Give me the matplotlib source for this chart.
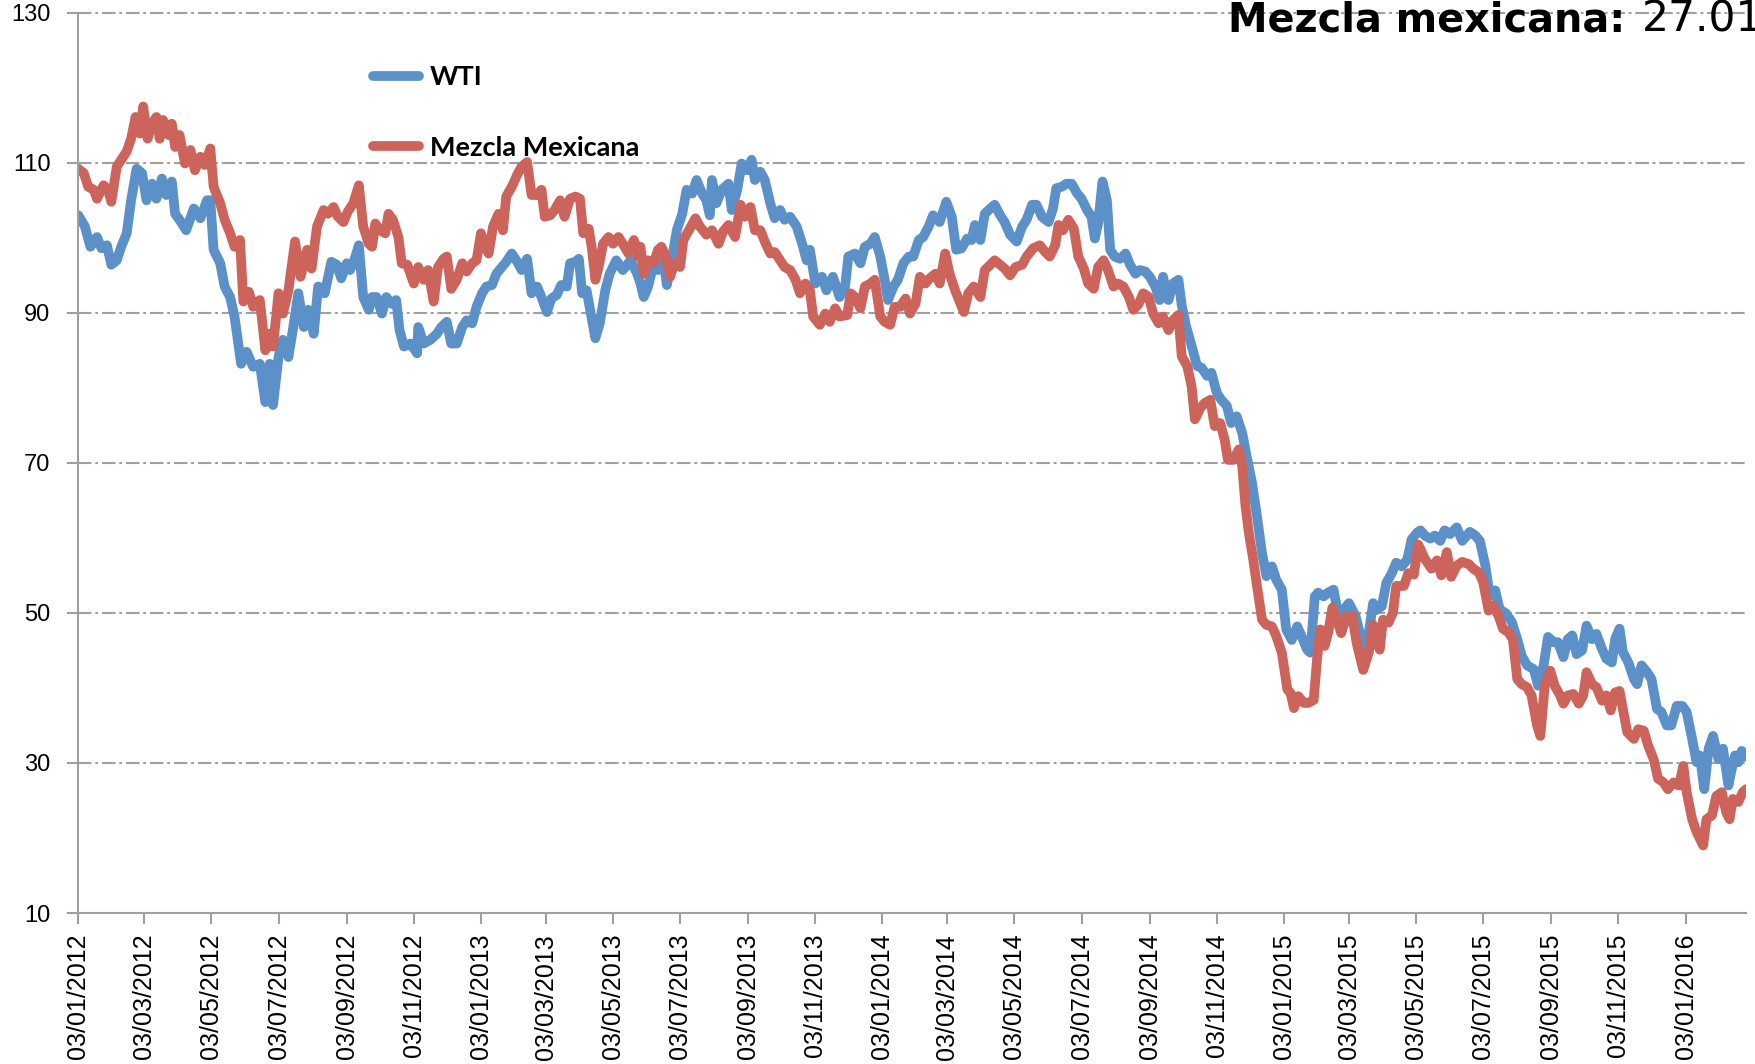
import matplotlib
matplotlib.use("Agg")
import matplotlib.pyplot as plt
import matplotlib.dates as mdates
import pandas as pd

# Daily crude prices (USD per barrel); *_day = days elapsed since 3 Jan 2012
start = pd.Timestamp("2012-01-03")

wti_day = [
    0, 6, 11, 17, 21, 26, 30, 35, 39, 44, 48, 53, 58, 62, 67, 71, 76, 80, 85, 88,
    92, 98, 105, 111, 117, 120, 123, 129, 133, 138, 142, 148, 153, 159, 165, 170, 174, 177, 182, 186,
    191, 195, 200, 205, 209, 214, 218, 224, 230, 235, 239, 244, 247, 250, 255, 259, 264, 267, 271, 276,
    280, 285, 289, 292, 296, 302, 308, 309, 314, 320, 326, 330, 335, 339, 344, 349, 353, 358, 362, 367,
    371, 376, 380, 385, 389, 394, 399, 403, 408, 412, 417, 421, 426, 430, 435, 439, 444, 447, 452, 455,
    458, 462, 467, 470, 474, 479, 483, 489, 495, 502, 508, 511, 514, 518, 523, 527, 532, 535, 539, 544,
    549, 553, 558, 562, 567, 571, 574, 576, 580, 585, 591, 594, 599, 603, 608, 612, 615, 620, 624, 629,
    633, 638, 642, 647, 653, 658, 662, 665, 670, 676, 680, 686, 692, 697, 700, 706, 711, 715, 720, 724,
    729, 733, 736, 741, 745, 750, 755, 759, 764, 768, 773, 777, 783, 789, 794, 798, 803, 808, 812, 815,
    820, 824, 829, 833, 838, 842, 847, 853, 858, 862, 867, 871, 876, 882, 886, 889, 894, 898, 903, 908,
    912, 917, 921, 924, 927, 931, 935, 938, 942, 947, 952, 956, 961, 965, 970, 974, 979, 983, 986, 991,
    995, 1000, 1003, 1007, 1012, 1017, 1021, 1026, 1030, 1035, 1039, 1044, 1048, 1053, 1058, 1062, 1067, 1071, 1076, 1080,
    1085, 1089, 1094, 1098, 1103, 1108, 1112, 1117, 1120, 1124, 1127, 1132, 1136, 1141, 1145, 1150, 1155, 1161, 1165, 1168,
    1173, 1177, 1180, 1185, 1189, 1194, 1198, 1203, 1208, 1212, 1217, 1220, 1224, 1229, 1233, 1238, 1242, 1247, 1253, 1258,
    1265, 1270, 1274, 1279, 1283, 1288, 1292, 1298, 1303, 1308, 1312, 1317, 1323, 1327, 1332, 1336, 1341, 1345, 1350, 1354,
    1358, 1362, 1367, 1371, 1376, 1380, 1385, 1389, 1394, 1397, 1401, 1404, 1409, 1414, 1417, 1421, 1426, 1430, 1435, 1439,
    1444, 1448, 1453, 1458, 1462, 1467, 1471, 1474, 1478, 1482, 1486, 1491, 1495, 1500, 1503, 1506, 1509, 1512, 1516,
]
wti = [
    103.0, 101.5, 98.8, 100.1, 98.6, 99.0, 96.4, 97.0, 98.8, 100.6, 105.0, 109.2, 108.6, 105.0, 107.2, 105.2, 107.9, 105.7, 107.5, 103.2,
    102.4, 101.0, 103.9, 102.6, 105.0, 105.0, 98.4, 96.6, 93.5, 92.1, 89.5, 83.2, 84.8, 82.8, 83.2, 78.1, 83.2, 77.7, 84.1, 86.4,
    84.1, 87.7, 92.6, 88.1, 90.4, 87.2, 93.5, 92.6, 96.8, 96.4, 94.6, 96.6, 95.7, 96.6, 99.0, 92.1, 90.4, 92.1, 92.1, 89.9,
    92.1, 91.2, 91.7, 87.7, 85.5, 85.9, 84.6, 88.1, 85.9, 86.4, 87.2, 88.1, 88.8, 85.9, 85.9, 88.1, 89.0, 88.6, 90.8, 92.6,
    93.5, 93.7, 95.2, 96.1, 96.8, 97.9, 96.8, 95.7, 97.2, 92.6, 93.5, 92.1, 90.1, 91.9, 92.4, 93.7, 93.5, 96.6, 96.8, 97.2,
    92.6, 93.0, 89.0, 86.6, 88.6, 93.0, 95.2, 97.0, 95.7, 97.0, 95.2, 93.9, 92.1, 93.5, 96.6, 95.7, 97.0, 93.7, 96.6, 101.0,
    103.2, 106.4, 105.9, 107.7, 105.9, 105.0, 103.0, 107.7, 104.6, 106.4, 107.2, 103.7, 106.4, 109.9, 109.0, 110.4, 107.7, 108.8, 107.7, 104.6,
    102.6, 103.7, 102.4, 102.8, 101.5, 99.2, 97.0, 98.4, 93.9, 94.8, 93.0, 94.8, 92.1, 93.5, 97.5, 97.9, 96.6, 98.8, 99.2, 100.1,
    97.5, 94.4, 91.7, 93.5, 94.4, 96.6, 97.5, 97.5, 99.7, 100.1, 101.5, 103.0, 102.1, 104.8, 102.8, 98.4, 98.6, 99.9, 99.7, 101.7,
    99.7, 103.2, 103.9, 104.4, 103.0, 102.1, 100.4, 99.5, 101.5, 102.4, 104.4, 104.4, 102.8, 102.1, 103.9, 106.6, 106.8, 107.2, 107.2, 105.9,
    105.2, 103.7, 102.8, 99.9, 101.9, 107.5, 105.0, 98.4, 97.5, 97.2, 97.9, 96.4, 95.2, 95.7, 95.5, 94.8, 93.5, 91.7, 94.8, 91.7,
    93.9, 94.4, 91.0, 88.2, 85.6, 82.9, 82.7, 81.6, 82.0, 79.3, 78.4, 77.6, 75.3, 76.2, 74.0, 70.9, 67.3, 63.3, 58.0, 54.9,
    56.2, 54.4, 53.1, 47.8, 46.4, 48.2, 46.9, 45.1, 44.7, 52.2, 52.7, 52.2, 52.7, 53.1, 50.0, 50.4, 51.3, 49.6, 47.3, 45.1,
    47.3, 51.3, 50.4, 50.9, 54.0, 55.3, 56.7, 56.2, 57.1, 59.8, 60.7, 61.0, 60.3, 59.9, 60.3, 59.6, 61.0, 60.5, 61.4, 59.6,
    60.8, 60.3, 59.6, 56.3, 52.3, 53.0, 50.5, 49.9, 48.8, 46.5, 44.3, 43.0, 42.5, 40.3, 43.0, 46.8, 46.1, 46.1, 44.1, 46.5,
    47.0, 44.5, 45.0, 48.3, 46.5, 47.2, 45.2, 43.9, 43.4, 46.5, 47.9, 44.8, 43.4, 41.2, 40.5, 43.0, 42.1, 41.2, 37.2, 36.8,
    35.0, 35.0, 37.6, 37.6, 36.8, 33.2, 30.1, 31.0, 26.5, 31.9, 33.6, 30.5, 31.9, 27.0, 29.2, 31.0, 30.1, 31.6, 30.8,
]

mme_day = [
    0, 5, 9, 14, 17, 23, 27, 30, 35, 39, 44, 48, 52, 56, 59, 63, 67, 71, 74, 77,
    82, 85, 88, 92, 97, 102, 106, 111, 115, 120, 123, 129, 133, 138, 142, 147, 150, 155, 159, 165,
    170, 174, 177, 182, 186, 191, 197, 202, 208, 212, 217, 223, 227, 232, 236, 241, 245, 250, 255, 259,
    264, 267, 270, 274, 279, 282, 286, 291, 294, 299, 305, 309, 314, 318, 323, 327, 332, 335, 339, 344,
    349, 353, 358, 362, 366, 370, 373, 377, 382, 386, 389, 394, 399, 403, 408, 412, 417, 421, 424, 429,
    433, 438, 442, 447, 452, 456, 459, 464, 467, 470, 473, 477, 482, 486, 491, 495, 500, 505, 509, 511,
    514, 518, 523, 527, 530, 533, 538, 542, 547, 550, 555, 561, 565, 571, 576, 582, 586, 591, 597, 602,
    606, 611, 615, 620, 624, 629, 633, 638, 642, 647, 652, 656, 661, 665, 668, 674, 679, 683, 688, 692,
    699, 702, 706, 711, 715, 720, 724, 729, 733, 738, 742, 747, 752, 756, 761, 765, 770, 774, 779, 783,
    788, 792, 797, 802, 805, 809, 814, 820, 824, 829, 833, 838, 842, 847, 852, 858, 862, 868, 874, 879,
    883, 888, 891, 895, 900, 905, 909, 914, 918, 923, 927, 932, 936, 941, 945, 950, 955, 959, 964, 968,
    973, 977, 982, 986, 991, 995, 1000, 1003, 1008, 1012, 1015, 1020, 1024, 1029, 1033, 1038, 1042, 1045, 1050, 1055,
    1058, 1061, 1064, 1068, 1071, 1076, 1080, 1085, 1089, 1094, 1099, 1102, 1105, 1109, 1114, 1118, 1123, 1126, 1129, 1133,
    1136, 1140, 1144, 1148, 1153, 1158, 1162, 1168, 1173, 1177, 1183, 1186, 1191, 1195, 1198, 1205, 1209, 1214, 1218, 1220,
    1224, 1230, 1235, 1239, 1244, 1248, 1253, 1258, 1264, 1268, 1273, 1277, 1282, 1286, 1291, 1295, 1300, 1304, 1308, 1312,
    1317, 1321, 1326, 1329, 1333, 1338, 1342, 1347, 1350, 1354, 1359, 1364, 1368, 1371, 1376, 1380, 1385, 1389, 1393, 1397,
    1401, 1404, 1408, 1414, 1418, 1423, 1427, 1432, 1436, 1441, 1445, 1450, 1455, 1459, 1462, 1467, 1471, 1477, 1480, 1485,
    1489, 1494, 1498, 1501, 1504, 1509, 1513, 1516,
]
mme = [
    109.2, 108.6, 106.8, 106.4, 105.2, 107.0, 106.4, 104.8, 109.5, 110.4, 111.5, 113.2, 116.1, 113.9, 117.5, 113.2, 115.2, 116.1, 113.2, 115.7,
    113.7, 115.2, 112.1, 113.7, 109.9, 111.7, 109.0, 110.8, 109.7, 111.9, 106.8, 104.6, 102.4, 100.6, 98.8, 99.7, 91.5, 92.8, 90.8, 91.7,
    85.0, 87.2, 85.5, 92.6, 89.9, 93.0, 99.5, 94.8, 98.4, 95.9, 101.5, 103.7, 103.2, 104.1, 102.8, 102.1, 103.5, 104.6, 107.0, 101.5,
    99.2, 98.8, 101.9, 101.0, 100.6, 103.2, 102.4, 100.1, 96.6, 96.4, 93.9, 96.1, 94.4, 95.7, 91.5, 96.1, 97.2, 97.5, 93.2, 94.4,
    96.6, 95.5, 96.6, 97.0, 100.6, 98.8, 97.9, 101.5, 103.2, 101.0, 105.5, 106.8, 108.4, 109.5, 110.1, 105.7, 105.7, 106.4, 102.8, 103.0,
    103.7, 105.0, 102.8, 105.2, 105.5, 105.2, 100.6, 101.2, 98.4, 94.4, 96.1, 99.2, 100.1, 99.2, 100.1, 99.2, 97.9, 99.7, 97.5, 98.8,
    95.2, 97.0, 96.6, 98.4, 98.8, 97.9, 94.8, 96.6, 96.1, 99.7, 101.0, 102.6, 101.5, 100.4, 101.0, 99.2, 100.8, 101.7, 100.1, 104.4,
    102.8, 104.1, 101.0, 101.0, 99.5, 97.9, 98.1, 97.0, 96.1, 95.7, 94.4, 92.6, 93.9, 93.0, 89.5, 88.4, 89.9, 88.8, 90.6, 89.5,
    89.7, 92.6, 92.1, 90.6, 93.5, 93.9, 94.4, 89.5, 88.8, 88.4, 90.8, 90.8, 91.9, 89.9, 91.2, 94.8, 93.9, 94.6, 95.2, 93.9,
    97.9, 95.2, 93.0, 91.2, 90.1, 92.6, 93.5, 92.1, 95.7, 96.4, 97.0, 96.4, 95.9, 95.0, 96.1, 96.4, 97.5, 98.6, 99.0, 98.1,
    97.5, 99.0, 101.7, 101.0, 102.4, 101.2, 97.5, 95.9, 93.9, 93.2, 96.1, 97.0, 95.7, 93.5, 93.9, 93.5, 92.1, 90.4, 91.2, 92.6,
    92.1, 89.9, 88.6, 89.5, 87.7, 89.0, 89.7, 84.2, 82.9, 80.2, 75.8, 77.3, 78.0, 78.4, 74.9, 75.3, 73.1, 70.4, 70.4, 71.8,
    69.6, 64.2, 60.7, 57.1, 54.0, 49.1, 48.4, 48.2, 46.9, 44.7, 39.8, 39.3, 37.3, 38.9, 38.0, 38.0, 38.4, 43.8, 47.8, 45.6,
    47.3, 50.7, 49.1, 47.3, 49.6, 49.6, 46.0, 42.4, 44.7, 48.4, 45.1, 49.1, 48.7, 50.0, 53.6, 53.6, 55.3, 55.1, 59.1, 58.5,
    57.2, 55.9, 57.0, 55.0, 58.1, 54.8, 56.3, 56.8, 56.5, 55.9, 55.4, 54.1, 50.3, 51.0, 49.6, 47.9, 47.4, 46.5, 41.2, 40.5,
    40.1, 39.0, 35.0, 33.6, 40.3, 42.3, 40.3, 39.0, 37.9, 39.0, 39.2, 37.9, 39.0, 42.1, 40.5, 40.1, 38.3, 39.0, 37.0, 39.4,
    39.6, 37.2, 34.1, 33.2, 34.5, 34.3, 32.3, 30.5, 27.9, 27.4, 26.5, 27.4, 27.0, 29.6, 26.1, 22.5, 20.8, 19.0, 22.5, 23.0,
    25.6, 26.1, 23.4, 22.5, 25.2, 24.8, 26.1, 26.5,
]

y_ticks = [10, 30, 50, 70, 90, 110, 130]
x_ticks = pd.date_range("2012-01-03", "2016-01-03", freq=pd.DateOffset(months=2))
last_day = 1516

blue = "#5B90C8"
red = "#CD645B"
grey = "#A0A0A0"

wti_dates = start + pd.to_timedelta(wti_day, unit="D")
mme_dates = start + pd.to_timedelta(mme_day, unit="D")

W, H = 1755, 1064
fig = plt.figure(figsize=(W / 100, H / 100), dpi=100)
ax = fig.add_axes([78.3 / W, 1 - 913 / H, (78.3 + last_day * 1.1001) / W - 78.3 / W, 900.3 / H])

line_kw = dict(linewidth=7, solid_joinstyle="round", solid_capstyle="round")
ax.plot(wti_dates, wti, color=blue, label="WTI", **line_kw)
ax.plot(mme_dates, mme, color=red, label="Mezcla Mexicana", **line_kw)

ax.set_xlim(start, start + pd.Timedelta(days=last_day))
ax.set_ylim(10, 130)

# horizontal dash-dot gridlines
for y in y_ticks[1:]:
    ax.axhline(y, color=grey, linewidth=1.5, dashes=(6.5, 1.8, 1.4, 1.8), zorder=0.5, clip_on=False)

ax.set_yticks(y_ticks)
ax.set_xticks(x_ticks)
ax.xaxis.set_major_formatter(mdates.DateFormatter("%d/%m/%Y"))
ax.tick_params(axis="y", length=8, width=1.5, color=grey, pad=12, labelsize=17)
ax.tick_params(axis="x", length=8, width=1.5, color=grey, pad=7, labelsize=18, labelrotation=90)
for lbl in ax.get_xticklabels() + ax.get_yticklabels():
    lbl.set_family("Liberation Sans")

for side in ("top", "right"):
    ax.spines[side].set_visible(False)
for side in ("left", "bottom"):
    ax.spines[side].set_color(grey)
    ax.spines[side].set_linewidth(1.5)

ax.legend(loc="upper left", bbox_to_anchor=(373 / W, 1 - 65 / H), bbox_transform=fig.transFigure,
          frameon=False, prop=dict(family="Lato", weight="bold", size=19.5),
          handlelength=1.7, handletextpad=0.4, labelspacing=1.72, borderpad=0, borderaxespad=0)

fig.text(1228 / W, 1 - 32 / H, "Mezcla mexicana:", family="DejaVu Sans", weight="bold",
         fontsize=28.6, ha="left", va="baseline")
fig.text(1642 / W, 1 - 32 / H, "27.01", family="DejaVu Sans", fontsize=30.5, ha="left", va="baseline")

fig.savefig("out.png", dpi=100)
